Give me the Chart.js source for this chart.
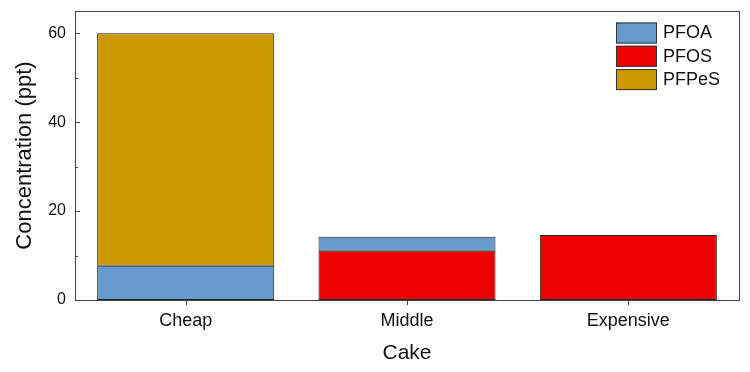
<!DOCTYPE html>
<html>
<head>
    <meta charset="utf-8" />
    <title>Cake concentration</title>
    <script src="https://cdn.jsdelivr.net/npm/chart.js"></script>
    <style>
        html, body { margin: 0; padding: 0; background: #fff; }
    </style>
</head>
<body>
    <canvas id="grafico" width="750" height="372"></canvas>
    <script>
        // Datos
        const categories = ['Cheap', 'Middle', 'Expensive'];
        const pfoaValues = [7.7, 3.1, null];
        const pfosValues = [null, 11.1, 14.6];
        const pfpesValues = [52.3, null, null];
        const yTickLabels = [0, 20, 40, 60];
        const legendOrder = ['PFOA', 'PFOS', 'PFPeS'];

        const fontName = '"Liberation Sans", Arial, sans-serif';

        // Marco, ticks y leyenda dibujados a mano
        const framePlugin = {
            id: 'frame',
            afterDraw(chart) {
                const ctx = chart.ctx;
                const a = chart.chartArea;
                const y = chart.scales.y;
                const x = chart.scales.x;
                ctx.save();
                ctx.strokeStyle = '#444';
                ctx.lineWidth = 1;
                ctx.strokeRect(Math.round(a.left) + 0.5, Math.round(a.top) + 0.5,
                    Math.round(a.right - a.left), Math.round(a.bottom - a.top));

                ctx.beginPath();
                for (let v = 0; v <= 60; v += 10) {
                    const py = Math.round(y.getPixelForValue(v)) + 0.5;
                    const len = yTickLabels.includes(v) ? 5 : 3;
                    ctx.moveTo(a.left, py);
                    ctx.lineTo(a.left + len, py);
                }
                categories.forEach((c, i) => {
                    const px = Math.round(x.getPixelForValue(i)) + 0.5;
                    ctx.moveTo(px, a.bottom);
                    ctx.lineTo(px, a.bottom + 5);
                });
                ctx.stroke();

                // Leyenda
                const boxX = a.right - 123;
                let rowY = a.top + 11.5;
                ctx.font = '18px ' + fontName;
                ctx.textBaseline = 'middle';
                legendOrder.forEach(name => {
                    const ds = chart.data.datasets.find(d => d.label === name);
                    ctx.fillStyle = ds.backgroundColor;
                    ctx.fillRect(boxX, rowY, 41, 21);
                    ctx.strokeStyle = '#333';
                    ctx.strokeRect(boxX + 0.5, rowY + 0.5, 40, 20);
                    ctx.fillStyle = '#111';
                    ctx.fillText(name, boxX + 47, rowY + 11);
                    rowY += 23.3;
                });
                ctx.restore();
            }
        };

        const ctx = document.getElementById('grafico').getContext('2d');
        const chart = new Chart(ctx, {
            type: 'bar',
            data: {
                labels: categories,
                datasets: [
                    {
                        label: 'PFOS',
                        data: pfosValues,
                        backgroundColor: '#EC0000',
                        borderColor: '#222',
                        borderWidth: 1,
                        borderSkipped: false
                    },
                    {
                        label: 'PFOA',
                        data: pfoaValues,
                        backgroundColor: '#6699CC',
                        borderColor: '#222',
                        borderWidth: 1,
                        borderSkipped: false
                    },
                    {
                        label: 'PFPeS',
                        data: pfpesValues,
                        backgroundColor: '#CC9900',
                        borderColor: '#222',
                        borderWidth: 1,
                        borderSkipped: false
                    }
                ]
            },
            options: {
                responsive: false,
                animation: false,
                devicePixelRatio: 1,
                categoryPercentage: 1,
                barPercentage: 0.8,
                layout: { padding: { left: 0, top: 11, right: 11, bottom: 0 } },
                plugins: {
                    legend: { display: false },
                    tooltip: { enabled: false }
                },
                scales: {
                    x: {
                        stacked: true,
                        grid: { display: false, drawTicks: false },
                        border: { display: false },
                        ticks: {
                            color: '#111',
                            padding: 10,
                            font: { family: fontName, size: 18 }
                        },
                        title: {
                            display: true,
                            text: 'Cake',
                            color: '#111',
                            padding: { top: 0, bottom: 6 },
                            font: { family: fontName, size: 21 }
                        },
                        afterFit(scale) {
                            scale.height = 72;
                            scale.paddingLeft = 0;
                            scale.paddingRight = 0;
                        }
                    },
                    y: {
                        stacked: true,
                        min: 0,
                        max: 65,
                        grid: { display: false, drawTicks: false },
                        border: { display: false },
                        ticks: {
                            stepSize: 10,
                            color: '#111',
                            padding: 9,
                            font: { family: fontName, size: 16 },
                            callback: v => yTickLabels.includes(v) ? v : ''
                        },
                        title: {
                            display: true,
                            text: 'Concentration (ppt)',
                            color: '#111',
                            padding: { top: 12, bottom: 0 },
                            font: { family: fontName, size: 22 }
                        },
                        afterFit(scale) {
                            scale.width = 75;
                            scale.paddingTop = 0;
                            scale.paddingBottom = 0;
                        }
                    }
                }
            },
            plugins: [framePlugin]
        });
    </script>
</body>
</html>
